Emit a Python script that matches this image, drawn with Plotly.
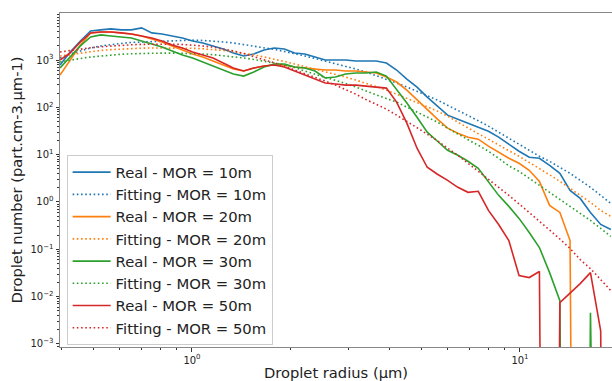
import plotly.graph_objects as go

# Droplet radius bins (µm)
radius = [0.396, 0.4253, 0.4568, 0.4907, 0.5272, 0.5663, 0.6083, 0.6534, 0.7019, 0.7540,
          0.8100, 0.8701, 0.9350, 1.0044, 1.079, 1.159, 1.245, 1.337, 1.437, 1.543,
          1.658, 1.781, 1.913, 2.055, 2.208, 2.372, 2.548, 2.737, 2.940, 3.158,
          3.393, 3.645, 3.915, 4.206, 4.519, 4.854, 5.214, 5.602, 6.017, 6.464,
          6.944, 7.460, 8.013, 8.608, 9.247, 9.933, 10.67, 11.46, 12.31, 13.23,
          14.21, 15.26, 16.40, 17.62, 18.92]

real_10 = [783, 1476, 2527, 4111, 4324, 4540, 4324, 4324, 4766, 3733,
           3556, 3222, 2925, 2527, 2292, 1983, 1711, 1406, 1216, 1340,
           1629, 1796, 1711, 1406, 1340, 1158, 1000, 1000, 1000, 952,
           952, 952, 864, 614, 396, 268, 164, 106, 68.3, 56.2,
           46.3, 38.1, 31.3, 23.4, 16.6, 11.8, 8.81, 8.39, 5.96, 4.04,
           1.76, 1.19, 0.602, 0.335, 0.263]
fit_10 = [1103, 1340, 1551, 1796, 1980, 2130, 2237, 2349, 2407, 2466,
          2527, 2589, 2613, 2626, 2589, 2527, 2407, 2292, 2130, 1980,
          1840, 1669, 1514, 1373, 1216, 1076, 952, 843, 746, 645,
          557, 469, 396, 326, 268, 220, 177, 142, 111, 87.2,
          68.3, 52.2, 40.0, 29.8, 22.2, 16.6, 12.4, 9.24, 7.24, 5.40,
          4.03, 2.87, 2.04, 1.38, 0.933]
real_20 = [481, 1000, 2080, 3733, 3917, 3917, 3733, 3556, 3222, 2786,
           2404, 1983, 1629, 1340, 1158, 952, 783, 644, 585, 677,
           746, 783, 783, 711, 677, 644, 614, 614, 585, 585,
           557, 531, 436, 342, 231, 142, 87.3, 56.2, 36.3, 28.4,
           23.4, 21.2, 15.1, 11.3, 8.39, 6.58, 4.67, 2.73, 0.847, 0.602,
           0.153, 0, 0, 0, 0]
fit_20 = [1216, 1308, 1407, 1514, 1590, 1654, 1710, 1753, 1779, 1796,
          1805, 1805, 1796, 1770, 1727, 1669, 1590, 1499, 1407, 1276,
          1158, 1050, 930, 823, 728, 645, 571, 505, 436, 377,
          326, 274, 231, 190, 157, 129, 103, 83.1, 65.1, 48.6,
          36.2, 27.7, 21.2, 15.8, 12.1, 9.24, 6.90, 5.15, 3.75, 2.73,
          1.94, 1.38, 0.980, 0.663, 0.495]
real_30 = [677, 1158, 1983, 3069, 3389, 3222, 3069, 2925, 2527, 2183,
           1885, 1552, 1276, 1102, 907, 746, 614, 505, 458, 557,
           711, 823, 823, 711, 677, 585, 416, 436, 505, 531,
           531, 557, 458, 243, 123, 61.9, 29.8, 19.2, 12.4, 9.70,
           7.24, 5.15, 2.73, 1.38, 0.807, 0.450, 0.227, 0.109, 0.0322, 0.00822,
           0, 0, 0.00458, 0, 0]
fit_30 = [907, 1000, 1076, 1158, 1216, 1276, 1321, 1353, 1380, 1393,
          1400, 1400, 1393, 1373, 1340, 1295, 1239, 1175, 1103, 1025,
          952, 864, 783, 694, 585, 505, 436, 377, 318, 268,
          220, 181, 153, 129, 101, 79.1, 62.0, 48.6, 36.2, 27.0,
          20.7, 15.8, 11.8, 8.38, 5.81, 4.45, 3.16, 2.25, 1.60, 1.13,
          0.806, 0.573, 0.407, 0.276, 0.187]
real_50 = [1000, 1406, 2404, 3733, 3917, 3917, 3733, 3556, 3222, 2925,
           2527, 2080, 1796, 1476, 1276, 1102, 864, 677, 585, 677,
           746, 783, 711, 585, 481, 396, 326, 311, 295, 295,
           281, 268, 255, 129, 46.3, 13.7, 5.41, 3.85, 2.87, 2.04,
           1.60, 1.68, 0.664, 0.335, 0.153, 0.0279, 0.0253, 0.0339, 0, 0.00746,
           0.0116, 0.0189, 0.0322, 0.00190, 0]
fit_50 = [1478, 1590, 1710, 1814, 1904, 1980, 2049, 2099, 2141, 2162,
          2172, 2162, 2130, 2079, 1980, 1867, 1710, 1551, 1373, 1186,
          1025, 885, 746, 614, 518, 426, 359, 295, 237, 190,
          146, 117, 91.6, 68.3, 51.0, 37.1, 27.0, 19.7, 13.7, 9.70,
          6.57, 4.45, 3.08, 2.04, 1.38, 0.911, 0.602, 0.397, 0.256, 0.165,
          0.104, 0.0607, 0.0391, 0.0229, 0.0134]

mor_labels = ["10m", "20m", "30m", "50m"]
colors = ["#1f77b4", "#ff7f0e", "#2ca02c", "#d62728"]
reals = [real_10, real_20, real_30, real_50]
fits = [fit_10, fit_20, fit_30, fit_50]

x_tickvals = [1, 10]
x_ticktext = ["10<sup>0</sup>", "10<sup>1</sup>"]
x_minor = [0.4, 0.5, 0.6, 0.7, 0.8, 0.9, 2, 3, 4, 5, 6, 7, 8, 9, 20]
y_exps = [-3, -2, -1, 0, 1, 2, 3]
y_tickvals = [10.0 ** e for e in y_exps]
y_ticktext = ["10<sup>" + ("\u2212" + str(-e) if e < 0 else str(e)) + "</sup>" for e in y_exps]
y_minor = [k * 10.0 ** e for e in range(-4, 4) for k in range(2, 10)]


def clip_nonpos(vals):
    # mimic log-scale clipping of non-positive values (line drops off the axis)
    return [v if v > 0 else 1e-30 for v in vals]


FONT = "DejaVu Sans"
fig = go.Figure()
for lab, col, r, f in zip(mor_labels, colors, reals, fits):
    fig.add_trace(go.Scatter(x=radius, y=clip_nonpos(r), mode="lines",
                             line=dict(color=col, width=1.6),
                             name="Real - MOR = " + lab))
    fig.add_trace(go.Scatter(x=radius, y=clip_nonpos(f), mode="lines",
                             line=dict(color=col, width=1.6, dash="1.6px,2.6px"),
                             name="Fitting - MOR = " + lab))

fig.update_layout(
    width=612, height=381,
    margin=dict(l=60, r=0, t=13, b=34),
    paper_bgcolor="white", plot_bgcolor="white",
    font=dict(family=FONT, color="#222222"),
    legend=dict(x=0.012, y=0.006, xanchor="left", yanchor="bottom",
                bgcolor="rgba(255,255,255,0.8)", bordercolor="#cccccc", borderwidth=1,
                font=dict(family=FONT, size=14.8, color="#222222"),
                itemwidth=38, traceorder="normal"),
    showlegend=True,
)

fig.update_xaxes(
    type="log", range=[-0.4024, 1.2805],
    showgrid=False, zeroline=False,
    showline=True, linecolor="#888888", linewidth=1, mirror=True,
    ticks="outside", ticklen=3.5, tickwidth=0.8, tickcolor="#333333",
    tickmode="array", tickvals=x_tickvals, ticktext=x_ticktext,
    tickfont=dict(family=FONT, size=10, color="#222222"),
    minor=dict(tickmode="array", tickvals=x_minor, ticks="outside",
               ticklen=2, tickwidth=0.6, tickcolor="#333333", showgrid=False),
    title=dict(text="Droplet radius (\u00b5m)", font=dict(family=FONT, size=14.7, color="#222222"),
               standoff=4),
)
fig.update_yaxes(
    type="log", range=[-3.064, 3.993],
    showgrid=False, zeroline=False,
    showline=True, linecolor="#888888", linewidth=1, mirror=False,
    ticks="outside", ticklen=3.5, tickwidth=0.8, tickcolor="#333333",
    tickmode="array", tickvals=y_tickvals, ticktext=y_ticktext,
    tickfont=dict(family=FONT, size=10, color="#222222"),
    minor=dict(tickmode="array", tickvals=y_minor, ticks="outside",
               ticklen=2, tickwidth=0.6, tickcolor="#333333", showgrid=False),
    title=dict(text="Droplet number (part.cm-3.\u00b5m-1)", font=dict(family=FONT, size=14.7, color="#222222"),
               standoff=4),
)

fig.write_html("out.html")
